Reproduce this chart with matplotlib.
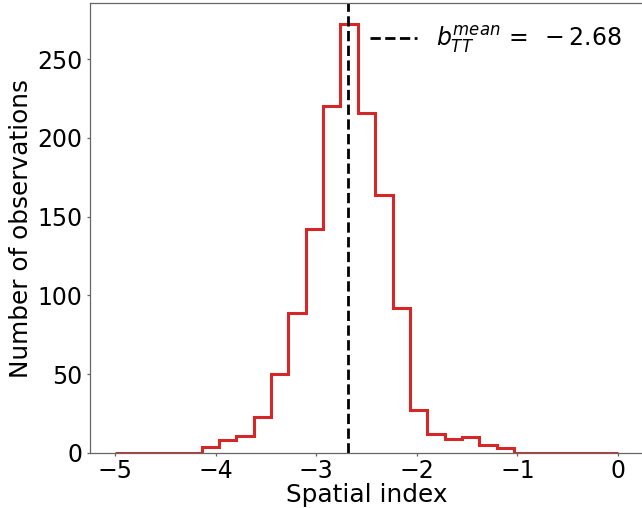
import numpy as np
import matplotlib
matplotlib.use('Agg')
import matplotlib.pyplot as plt

# histogram of spatial index, 29 bins between -5 and 0
bin_edges = np.linspace(-5, 0, 30)
counts = [0, 0, 0, 0, 0, 4, 8, 11, 23, 50, 89, 142, 220, 272,
          216, 164, 92, 27, 12, 9, 10, 5, 3, 0, 0, 0, 0, 0, 0]
b_mean = -2.68

plt.rcParams['font.size'] = 17.8
plt.rcParams['axes.edgecolor'] = '#666666'
plt.rcParams['axes.linewidth'] = 0.9
for ax_name in ('xtick', 'ytick'):
    plt.rcParams[ax_name + '.color'] = '#666666'
    plt.rcParams[ax_name + '.labelcolor'] = 'black'
    plt.rcParams[ax_name + '.labelsize'] = 17
    plt.rcParams[ax_name + '.major.size'] = 2.5
    plt.rcParams[ax_name + '.major.width'] = 0.9
plt.rcParams['xtick.major.pad'] = 2
plt.rcParams['ytick.major.pad'] = 3

fig = plt.figure(figsize=(6.42, 5.08), dpi=100)
ax = fig.add_axes([90 / 642, 1 - 453 / 508, 553 / 642, 450 / 508])

centers = 0.5 * (bin_edges[:-1] + bin_edges[1:])
ax.hist(centers, bins=bin_edges, weights=counts, histtype='step',
        color='#d62728', linewidth=2.2)
ax.axvline(b_mean, color='k', linestyle='--', linewidth=2,
           label=r'$b_{TT}^{mean}\,=\;-2.68$')

ax.set_xlabel('Spatial index', labelpad=0)
ax.set_ylabel('Number of observations', labelpad=3)
ax.set_xticks([-5, -4, -3, -2, -1, 0])
ax.legend(frameon=False, loc='upper right', fontsize=17,
          bbox_to_anchor=(1.0, 1.0))

plt.savefig('out.png', dpi=100)
